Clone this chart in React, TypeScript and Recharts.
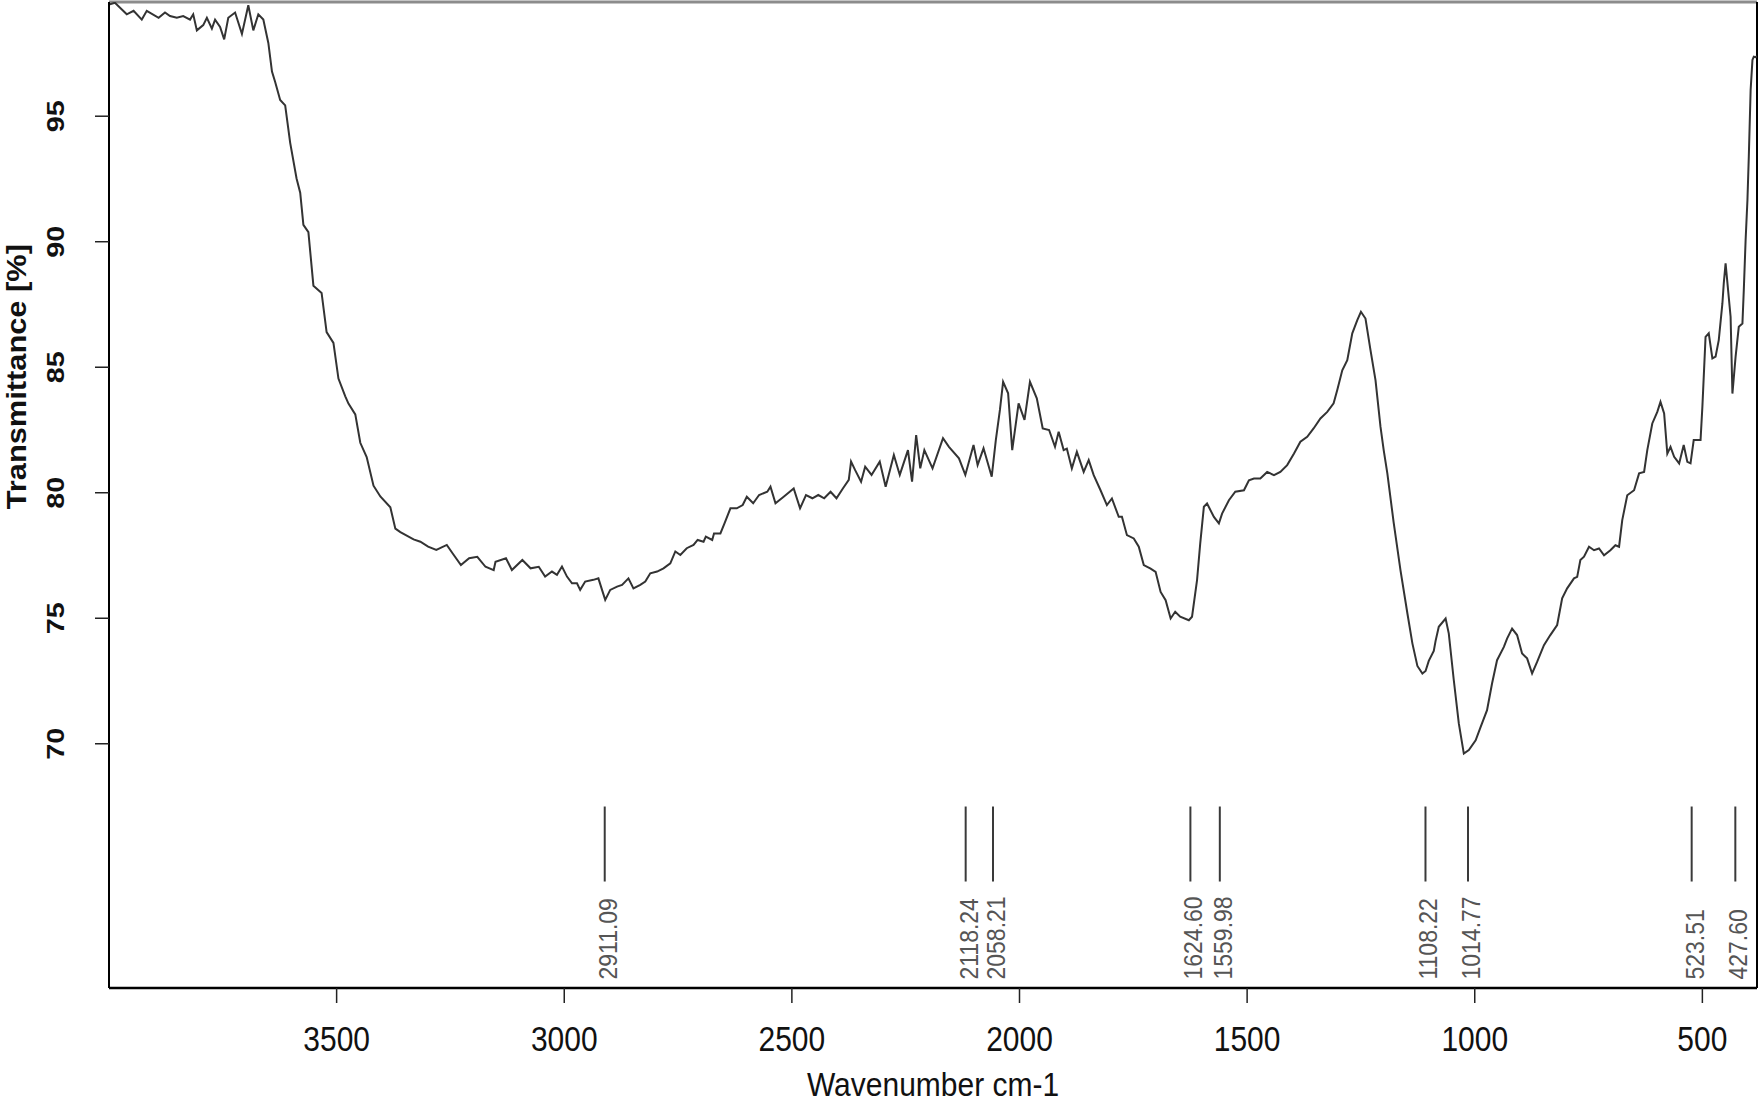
import { ComposedChart, Line, Scatter, XAxis, YAxis, ReferenceLine } from "recharts";

const WAVENUMBERS = [
  4000, 3987, 3961, 3946, 3928, 3917, 3891, 3877, 3866, 3851, 3837, 3822, 3815, 3807, 3793, 3785, 3774, 3767, 3756, 3747,
  3738, 3723, 3708, 3694, 3683, 3672, 3661, 3650, 3642, 3635, 3624, 3613, 3602, 3588, 3580, 3573, 3562, 3551, 3533, 3522,
  3507, 3496, 3481, 3474, 3459, 3448, 3434, 3419, 3404, 3382, 3371, 3360, 3331, 3316, 3299, 3281, 3258, 3245, 3227, 3209,
  3191, 3173, 3155, 3151, 3128, 3115, 3092, 3074, 3056, 3042, 3027, 3016, 3005, 2994, 2983, 2972, 2965, 2954, 2936, 2925,
  2917, 2910, 2899, 2884, 2873, 2859, 2848, 2833, 2822, 2811, 2796, 2782, 2767, 2756, 2745, 2731, 2716, 2707, 2694, 2689,
  2675, 2671, 2657, 2648, 2635, 2621, 2608, 2599, 2585, 2572, 2554, 2547, 2536, 2518, 2496, 2482, 2469, 2455, 2442, 2429,
  2415, 2402, 2388, 2375, 2370, 2361, 2348, 2339, 2325, 2307, 2294, 2276, 2263, 2245, 2236, 2227, 2218, 2209, 2191, 2168,
  2155, 2133, 2119, 2101, 2092, 2079, 2061, 2052, 2043, 2036, 2025, 2016, 2002, 1989, 1977, 1962, 1949, 1935, 1922, 1914,
  1903, 1896, 1885, 1874, 1859, 1848, 1837, 1822, 1808, 1797, 1782, 1775, 1764, 1749, 1738, 1727, 1712, 1701, 1690, 1679,
  1668, 1658, 1647, 1628, 1621, 1610, 1603, 1595, 1588, 1573, 1562, 1555, 1540, 1526, 1507, 1496, 1485, 1471, 1456, 1441,
  1427, 1412, 1397, 1383, 1368, 1354, 1339, 1324, 1310, 1302, 1291, 1280, 1269, 1258, 1250, 1240, 1229, 1218, 1207, 1200,
  1192, 1178, 1163, 1148, 1137, 1126, 1115, 1108, 1101, 1090, 1086, 1079, 1064, 1057, 1046, 1035, 1024, 1013, 998, 987,
  973, 962, 951, 936, 929, 918, 907, 896, 885, 874, 863, 848, 834, 819, 808, 797, 782, 775, 768, 760,
  749, 738, 727, 716, 702, 691, 683, 676, 665, 650, 639, 628, 621, 610, 599, 592, 584, 577, 570, 562,
  551, 541, 533, 526, 519, 504, 500, 493, 486, 478, 471, 464, 456, 453, 449, 438, 434, 427, 420, 412,
  409, 405, 401, 398, 394, 390, 387, 383, 380,
];

// transmittance (%) at each wavenumber above
const TRANSMITTANCE = [
  99.45, 99.52, 99.06, 99.2, 98.85, 99.2, 98.92, 99.13, 98.99, 98.92, 98.99, 98.85, 99.06, 98.42, 98.63, 98.92, 98.49, 98.85, 98.56, 98.06,
  98.92, 99.13, 98.28, 99.42, 98.42, 99.06, 98.85, 97.92, 96.78, 96.36, 95.65, 95.43, 93.94, 92.52, 91.95, 90.67, 90.38, 88.25, 87.96, 86.4,
  85.97, 84.55, 83.84, 83.55, 83.12, 81.99, 81.42, 80.28, 79.85, 79.42, 78.57, 78.43, 78.14, 78.05, 77.85, 77.72, 77.92, 77.58, 77.12, 77.39,
  77.45, 77.05, 76.92, 77.25, 77.39, 76.92, 77.32, 76.99, 77.05, 76.66, 76.86, 76.73, 77.06, 76.66, 76.39, 76.39, 76.13, 76.46, 76.53, 76.59,
  76.13, 75.73, 76.13, 76.26, 76.33, 76.59, 76.19, 76.33, 76.46, 76.79, 76.86, 76.99, 77.19, 77.66, 77.52, 77.79, 77.92, 78.12, 78.05, 78.25,
  78.12, 78.38, 78.38, 78.78, 79.38, 79.38, 79.51, 79.84, 79.58, 79.91, 80.04, 80.24, 79.58, 79.84, 80.17, 79.38, 79.91, 79.78, 79.91, 79.78,
  80.04, 79.78, 80.17, 80.51, 81.24, 80.9, 80.44, 81.04, 80.71, 81.24, 80.24, 81.5, 80.71, 81.7, 80.44, 82.3, 80.97, 81.7, 80.97, 82.17,
  81.83, 81.37, 80.71, 81.9, 81.1, 81.77, 80.64, 82.1, 83.3, 84.42, 83.96, 81.7, 83.56, 82.9, 84.42, 83.76, 82.56, 82.5, 81.83, 82.43,
  81.7, 81.76, 80.97, 81.63, 80.83, 81.3, 80.7, 80.1, 79.51, 79.77, 79.04, 79.04, 78.31, 78.18, 77.85, 77.12, 76.98, 76.85, 76.05, 75.72,
  74.99, 75.26, 75.06, 74.92, 75.06, 76.52, 77.98, 79.44, 79.57, 79.04, 78.78, 79.17, 79.7, 80.04, 80.1, 80.5, 80.57, 80.57, 80.83, 80.7,
  80.83, 81.1, 81.56, 82.03, 82.23, 82.56, 82.96, 83.22, 83.56, 84.09, 84.88, 85.28, 86.35, 86.88, 87.21, 86.94, 85.68, 84.49, 82.62, 81.7,
  80.77, 78.8, 76.9, 75.2, 74.0, 73.1, 72.8, 72.9, 73.3, 73.7, 74.1, 74.66, 74.99, 74.39, 72.53, 70.81, 69.61, 69.75, 70.14, 70.67,
  71.34, 72.4, 73.33, 73.86, 74.19, 74.59, 74.33, 73.6, 73.4, 72.8, 73.26, 73.93, 74.33, 74.73, 75.79, 76.19, 76.59, 76.65, 77.32, 77.45,
  77.85, 77.71, 77.78, 77.51, 77.71, 77.91, 77.85, 78.91, 79.9, 80.1, 80.77, 80.83, 81.7, 82.76, 83.22, 83.62, 83.16, 81.56, 81.83, 81.43,
  81.17, 81.9, 81.23, 81.17, 82.1, 82.1, 83.42, 86.21, 86.35, 85.35, 85.42, 86.08, 87.54, 88.34, 89.14, 87.01, 83.95, 85.42, 86.61, 86.74,
  88.08, 90.07, 91.66, 93.39, 96.04, 97.24, 97.37, 97.35, 97.4,
];

const PEAK_WAVENUMBERS = [2911.09, 2118.24, 2058.21, 1624.6, 1559.98, 1108.22, 1014.77, 523.51, 427.6];

const X_TICKS = [3500, 3000, 2500, 2000, 1500, 1000, 500];
const Y_TICKS = [70, 75, 80, 85, 90, 95];

const X_DOMAIN: [number, number] = [380, 4000];
const Y_DOMAIN: [number, number] = [60.27, 99.55];
// transmittance level where the peak marker lines begin
const PEAK_MARK_TOP = 67.5;

const FONT = "'Liberation Sans', Arial, Helvetica, sans-serif";

const spectrum = WAVENUMBERS.map((wn, i) => ({ wn, t: TRANSMITTANCE[i] }));
const peakRows = PEAK_WAVENUMBERS.map((wn) => ({ wn, t: PEAK_MARK_TOP }));

function XTick({ x, y, payload }: any) {
  return (
    <text
      transform={`translate(${x},${y + 34}) scale(1,1.14)`}
      textAnchor="middle"
      dominantBaseline="central"
      fontFamily={FONT}
      fontSize={30}
      fill="#111"
    >
      {payload.value}
    </text>
  );
}

function YTick({ x, y, payload }: any) {
  return (
    <text
      transform={`translate(${x - 37},${y}) rotate(-90) scale(1.2,1)`}
      textAnchor="middle"
      dominantBaseline="central"
      fontFamily={FONT}
      fontSize={24}
      fontWeight="bold"
      fill="#111"
    >
      {payload.value}
    </text>
  );
}

function XTitle({ viewBox }: any) {
  const cx = viewBox.x + viewBox.width / 2;
  return (
    <text
      transform={`translate(${cx},${viewBox.y + 96}) scale(1,1.1)`}
      textAnchor="middle"
      dominantBaseline="central"
      fontFamily={FONT}
      fontSize={30}
      fill="#111"
    >
      Wavenumber cm-1
    </text>
  );
}

function YTitle({ viewBox }: any) {
  const cy = viewBox.y + viewBox.height * 0.38;
  return (
    <text
      transform={`translate(${viewBox.x + 16},${cy}) rotate(-90) scale(1.1,1)`}
      textAnchor="middle"
      dominantBaseline="central"
      fontFamily={FONT}
      fontSize={28}
      fontWeight="bold"
      fill="#111"
    >
      Transmittance [%]
    </text>
  );
}

function PeakMarker({ cx, cy, payload }: any) {
  return (
    <g>
      <line x1={cx} x2={cx} y1={cy} y2={cy + 75} stroke="#3a3a3a" strokeWidth={2} />
      <text
        transform={`translate(${cx + 3},${cy + 173}) rotate(-90) scale(0.92,1)`}
        textAnchor="start"
        dominantBaseline="central"
        fontFamily={FONT}
        fontSize={25}
        fill="#555"
      >
        {payload.wn.toFixed(2)}
      </text>
    </g>
  );
}

export default function App() {
  return (
    <div style={{ position: "absolute", left: 0, top: 0, width: 1760, height: 1104, background: "#fff" }}>
      <ComposedChart width={1760} height={1104} margin={{ top: 2, right: 3, bottom: 0, left: 0 }}>
        <XAxis
          dataKey="wn"
          type="number"
          domain={X_DOMAIN}
          reversed
          allowDataOverflow
          ticks={X_TICKS}
          height={116}
          tickSize={15}
          axisLine={{ stroke: "#000", strokeWidth: 2.5 }}
          tickLine={{ stroke: "#222", strokeWidth: 1.5 }}
          tick={<XTick />}
          label={<XTitle />}
        />
        <YAxis
          type="number"
          domain={Y_DOMAIN}
          allowDataOverflow
          ticks={Y_TICKS}
          width={109}
          tickSize={14}
          axisLine={{ stroke: "#000", strokeWidth: 2 }}
          tickLine={{ stroke: "#222", strokeWidth: 1.5 }}
          tick={<YTick />}
          label={<YTitle />}
        />
        <ReferenceLine y={Y_DOMAIN[1]} stroke="#8c8c8c" strokeWidth={3} />
        <ReferenceLine x={X_DOMAIN[0]} stroke="#000" strokeWidth={2} />
        <Line
          data={spectrum}
          dataKey="t"
          type="linear"
          stroke="#333"
          strokeWidth={2}
          dot={false}
          isAnimationActive={false}
        />
        <Scatter data={peakRows} dataKey="t" shape={<PeakMarker />} isAnimationActive={false} />
      </ComposedChart>
    </div>
  );
}
